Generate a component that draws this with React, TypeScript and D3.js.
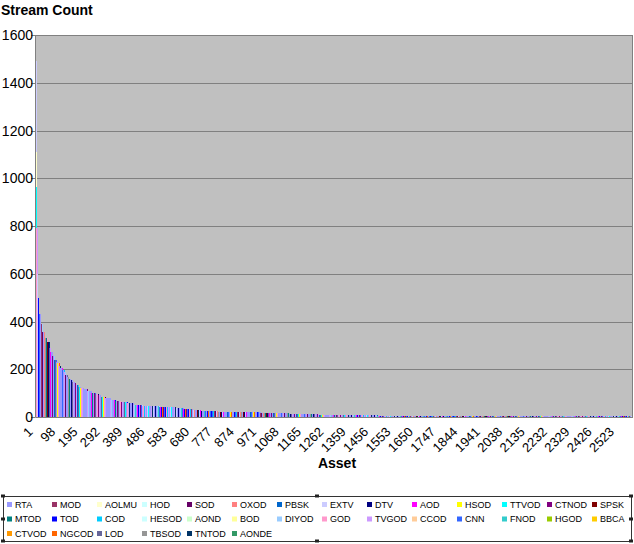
import { useEffect, useRef } from 'react';
import * as d3 from 'd3';

// legend series, in the order Excel lists them
const seriesNames = [
  'RTA', 'MOD', 'AOLMU', 'HOD', 'SOD', 'OXOD', 'PBSK', 'EXTV', 'DTV', 'AOD', 'HSOD', 'TTVOD', 'CTNOD', 'SPSK',
  'MTOD', 'TOD', 'COD', 'HESOD', 'AOND', 'BOD', 'DIYOD', 'GOD', 'TVGOD', 'CCOD', 'CNN', 'FNOD', 'HGOD', 'BBCA',
  'CTVOD', 'NGCOD', 'LOD', 'TBSOD', 'TNTOD', 'AONDE',
];
const seriesColors = [
  '#9999FF', '#993366', '#FFFFCC', '#CCFFFF', '#660066', '#FF8080', '#0066CC', '#CCCCFF', '#000080', '#FF00FF', '#FFFF00', '#00FFFF', '#800080', '#800000',
  '#008080', '#0000FF', '#00CCFF', '#CCFFFF', '#CCFFCC', '#FFFF99', '#99CCFF', '#FF99CC', '#CC99FF', '#FFCC99', '#3366FF', '#33CCCC', '#99CC00', '#FFCC00',
  '#FF9900', '#FF6600', '#666699', '#969696', '#003366', '#339966',
];

// stream counts per asset, sorted descending (value, how many assets)
const runValues = [
  1490, 1110, 965, 790, 600, 500, 430, 390, 355, 330, 313, 290, 272, 255, 238, 230, 226, 215, 205, 197,
  190, 178, 168, 160, 155, 148, 142, 134, 126, 121, 117, 108, 100, 96, 92, 85, 79, 73, 68, 63,
  58, 52, 47, 44, 42, 40, 38, 34, 29, 27, 25, 23, 22, 20, 19, 17, 15, 13, 12, 10,
  9, 8, 6, 5, 4, 3, 2, 1,
];
const runCounts = [
  1, 1, 2, 2, 3, 5, 8, 8, 10, 10, 8, 7, 7, 8, 8, 7, 6, 7, 8, 7,
  7, 7, 7, 8, 7, 8, 7, 10, 11, 14, 15, 18, 18, 11, 11, 21, 22, 22, 22, 28,
  28, 37, 37, 37, 37, 35, 34, 37, 37, 37, 37, 35, 34, 58, 58, 58, 65, 65, 65, 65,
  95, 95, 95, 92, 170, 177, 290, 283,
];

// which series the leading assets belong to, then the mix the rest of the bars cycle through
const leadSeries = ['EXTV', 'AOLMU', 'TTVOD', 'TTVOD', 'GOD', 'TVGOD', 'HOD', 'HOD', 'EXTV', 'GOD', 'TVGOD', 'RTA'];
const barSeriesCycle = [
  'RTA', 'TOD', 'TVGOD', 'AOD', 'RTA', 'CNN', 'GOD', 'RTA', 'DTV', 'RTA', 'COD', 'CTNOD', 'RTA', 'TVGOD',
  'MOD', 'TVGOD', 'RTA', 'DIYOD', 'SOD', 'RTA', 'PBSK', 'FNOD', 'RTA', 'EXTV', 'LOD', 'CNN', 'RTA',
  'OXOD', 'TTVOD', 'RTA', 'AOD', 'TBSOD', 'RTA', 'HSOD', 'TOD', 'MTOD', 'RTA', 'GOD', 'NGCOD', 'RTA',
  'SPSK', 'TVGOD', 'RTA', 'CTNOD', 'DTV', 'TNTOD', 'RTA', 'CNN', 'LOD', 'EXTV',
];

const yTicks = [0, 200, 400, 600, 800, 1000, 1200, 1400, 1600];
const xTickLabels = [
  1, 98, 195, 292, 389, 486, 583, 680, 777, 874, 971, 1068, 1165, 1262, 1359, 1456, 1553, 1650,
  1747, 1844, 1941, 2038, 2135, 2232, 2329, 2426, 2523,
];

const font = 'Arial, "Liberation Sans", sans-serif';

const StreamCountChart = () => {
  const svgRef = useRef<SVGSVGElement>(null);

  useEffect(() => {
    if (!svgRef.current) return;
    d3.select(svgRef.current).selectAll('*').remove();

    const streamCounts = runValues.flatMap((v, i) => Array(runCounts[i]).fill(v) as number[]);
    const n = streamCounts.length;
    const colorOf = d3.scaleOrdinal<string, string>().domain(seriesNames).range(seriesColors);
    const seriesOf = (i: number) =>
      i < leadSeries.length ? leadSeries[i] : barSeriesCycle[(i - leadSeries.length) % barSeriesCycle.length];

    const plot = { left: 35, right: 633, top: 35, bottom: 417 };

    const svg = d3
      .select(svgRef.current)
      .attr('width', 634)
      .attr('height', 544)
      .style('position', 'absolute')
      .style('left', '0px')
      .style('top', '0px')
      .style('background', '#fff');

    const xScale = d3.scaleBand<number>().domain(d3.range(n)).range([plot.left + 1, plot.right]).padding(0);
    const yScale = d3.scaleLinear().domain([0, 1600]).range([plot.bottom, plot.top]);

    // plot area
    svg
      .append('rect')
      .attr('x', plot.left)
      .attr('y', plot.top)
      .attr('width', plot.right - plot.left)
      .attr('height', plot.bottom - plot.top)
      .attr('fill', '#C0C0C0');

    svg
      .append('g')
      .selectAll('line')
      .data(yTicks.filter((t) => t > 0))
      .enter()
      .append('line')
      .attr('x1', plot.left)
      .attr('x2', plot.right)
      .attr('y1', (d) => Math.round(yScale(d)) + 0.5)
      .attr('y2', (d) => Math.round(yScale(d)) + 0.5)
      .attr('stroke', '#808080')
      .attr('stroke-width', 1);

    // bars, one per asset; at least a pixel wide and tall, like Excel draws them
    const barHeight = (d: number) => Math.max(1, Math.round(plot.bottom - yScale(d)));
    svg
      .append('g')
      .attr('shape-rendering', 'crispEdges')
      .selectAll('rect')
      .data(streamCounts)
      .enter()
      .append('rect')
      .attr('x', (_d, i) => Math.floor(xScale(i)!))
      .attr('width', Math.max(1, xScale.bandwidth()))
      .attr('y', (d) => plot.bottom - barHeight(d))
      .attr('height', (d) => barHeight(d))
      .attr('fill', (_d, i) => colorOf(seriesOf(i)));

    // plot border and axes
    svg
      .append('path')
      .attr('d', `M${plot.left + 0.5},${plot.top + 0.5}H${plot.right - 0.5}V${plot.bottom + 0.5}`)
      .attr('fill', 'none')
      .attr('stroke', '#808080');
    svg
      .append('path')
      .attr('d', `M${plot.left + 0.5},${plot.top}V${plot.bottom + 0.5}H${plot.right}`)
      .attr('fill', 'none')
      .attr('stroke', '#808080');

    // y axis
    const yAxis = svg.append('g');
    yAxis
      .selectAll('line')
      .data(yTicks)
      .enter()
      .append('line')
      .attr('x1', plot.left - 4)
      .attr('x2', plot.left)
      .attr('y1', (d) => Math.round(yScale(d)) + 0.5)
      .attr('y2', (d) => Math.round(yScale(d)) + 0.5)
      .attr('stroke', '#808080');
    yAxis
      .selectAll('text')
      .data(yTicks)
      .enter()
      .append('text')
      .attr('x', plot.left - 2)
      .attr('y', (d) => yScale(d))
      .attr('dy', '0.36em')
      .attr('text-anchor', 'end')
      .attr('font-family', font)
      .attr('font-size', 14)
      .attr('fill', '#000')
      .text((d) => d);

    // x axis labels, rotated like Excel
    svg
      .append('g')
      .selectAll('text')
      .data(xTickLabels)
      .enter()
      .append('text')
      .attr('transform', (d) => `translate(${xScale(d - 1)! + xScale.bandwidth() / 2 - 9},${plot.bottom + 9}) rotate(-45)`)
      .attr('dy', '0.71em')
      .attr('text-anchor', 'end')
      .attr('font-family', font)
      .attr('font-size', 13)
      .attr('fill', '#000')
      .text((d) => d);

    svg
      .append('text')
      .attr('x', 1)
      .attr('y', 15)
      .attr('font-family', font)
      .attr('font-size', 14)
      .attr('font-weight', 'bold')
      .text('Stream Count');

    svg
      .append('text')
      .attr('x', 337)
      .attr('y', 468)
      .attr('text-anchor', 'middle')
      .attr('font-family', font)
      .attr('font-size', 14)
      .attr('font-weight', 'bold')
      .text('Asset');

    // legend
    const legend = svg.append('g');
    legend
      .append('rect')
      .attr('x', 3.5)
      .attr('y', 496.5)
      .attr('width', 628)
      .attr('height', 45)
      .attr('fill', '#fff')
      .attr('stroke', '#333')
      .attr('stroke-width', 1);

    const handles = [
      [3, 496], [317, 496], [631, 496],
      [3, 519], [631, 519],
      [3, 541], [317, 541], [631, 541],
    ];
    legend
      .selectAll('.handle')
      .data(handles)
      .enter()
      .append('rect')
      .attr('class', 'handle')
      .attr('x', (d) => d[0] - 2)
      .attr('y', (d) => d[1] - 1.5)
      .attr('width', 4)
      .attr('height', 3)
      .attr('fill', '#222');

    const perRow = 14;
    const items = legend
      .selectAll('.item')
      .data(seriesNames)
      .enter()
      .append('g')
      .attr('class', 'item')
      .attr('transform', (_d, i) => `translate(${7 + (i % perRow) * 45},${504.5 + Math.floor(i / perRow) * 14.5})`);
    items
      .append('rect')
      .attr('x', 0)
      .attr('y', -2.5)
      .attr('width', 5)
      .attr('height', 5)
      .attr('fill', (d) => colorOf(d));
    items
      .append('text')
      .attr('x', 8)
      .attr('dy', '0.36em')
      .attr('font-family', font)
      .attr('font-size', 9)
      .attr('fill', '#000')
      .text((d) => d);
  }, []);

  return <svg ref={svgRef}></svg>;
};

export default function App() {
  return <StreamCountChart />;
}
